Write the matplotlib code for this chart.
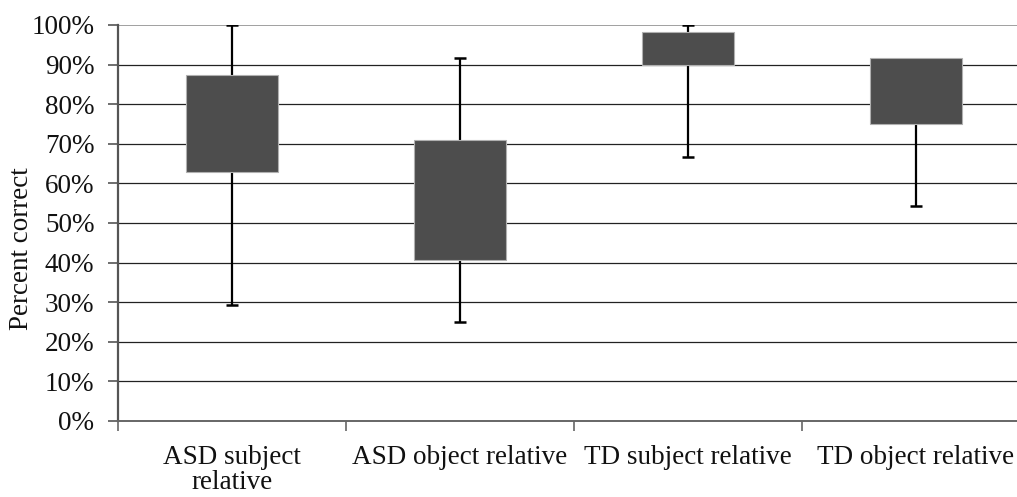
import numpy as np
import matplotlib
matplotlib.use("Agg")
import matplotlib.pyplot as plt
from matplotlib.ticker import MultipleLocator, PercentFormatter

# Percent correct per condition: whisker ends and box (quartile) edges
categories = ["ASD subject\nrelative", "ASD object relative",
              "TD subject relative", "TD object relative"]
whisker_low = [29.2, 24.9, 66.7, 54.4]
box_low = [62.8, 40.6, 89.9, 75.0]
box_high = [87.4, 71.0, 98.2, 91.7]
whisker_high = [100.0, 91.7, 100.0, 91.7]

plt.rcParams["font.family"] = ["Liberation Serif", "DejaVu Serif"]

W, H = 1017, 497
fig = plt.figure(figsize=(W / 100, H / 100), dpi=100)
ax = fig.add_axes([118 / W, 1 - 421 / H, (1030 - 118) / W, (421 - 25) / H])

x = np.arange(len(categories))
lo = np.array(whisker_low)
q1 = np.array(box_low)
q3 = np.array(box_high)
hi = np.array(whisker_high)

# whiskers (behind the boxes)
ax.vlines(x, lo, q1, color="black", lw=1.6, zorder=3)
ax.vlines(x, q3, hi, color="black", lw=1.6, zorder=3)
ax.plot(x, lo, ls="none", marker="_", ms=8.5, mew=1.8, color="black", zorder=3)
up = hi > q3
ax.plot(x[up], hi[up], ls="none", marker="_", ms=8.5, mew=1.8, color="black", zorder=3)

# boxes
ax.bar(x, q3 - q1, bottom=q1, width=0.4, color="#4d4d4d",
       edgecolor="#b0b0b0", linewidth=0.8, zorder=4)

ax.set_xlim(-0.5, len(categories) - 0.5)
ax.set_ylim(0, 100)

# horizontal gridlines
for v in range(10, 100, 10):
    ax.axhline(v, color="#222222", lw=0.9, zorder=1)
ax.axhline(100, color="#a0a0a0", lw=1.4, zorder=1)

for s in ["top", "right"]:
    ax.spines[s].set_visible(False)
ax.spines["left"].set_color("#555555")
ax.spines["left"].set_linewidth(1.6)
ax.spines["bottom"].set_color("#666666")
ax.spines["bottom"].set_linewidth(1.4)

ax.yaxis.set_major_locator(MultipleLocator(10))
ax.yaxis.set_major_formatter(PercentFormatter(decimals=0))
ax.tick_params(axis="y", length=7, width=1.2, color="#555555", pad=10,
               labelsize=19.5, labelcolor="#111111")

ax.set_xticks(x, labels=categories)
ax.set_xticks(np.arange(len(categories)) - 0.5, minor=True)
ax.tick_params(axis="x", which="major", length=0, pad=17,
               labelsize=19.5, labelcolor="#111111")
ax.tick_params(axis="x", which="minor", length=7, width=1.2, color="#666666")
for t in ax.get_xticklabels():
    t.set_linespacing(1.0)

fig.text(22 / W, 1 - 249 / H, "Percent correct", rotation=90,
         ha="center", va="center", fontsize=19.5, color="#111111")

fig.savefig("out.png", dpi=100)
